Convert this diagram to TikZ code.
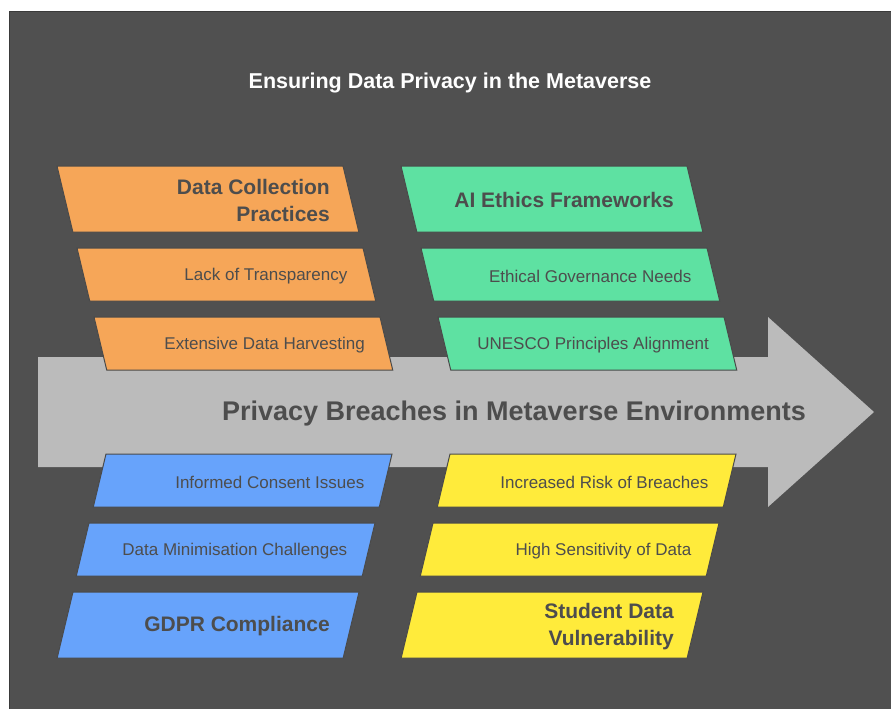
\documentclass[tikz,border=0pt]{standalone}
\usepackage{fontspec}
\setmainfont{Liberation Sans}
\usetikzlibrary{calc}

\definecolor{bgdark}{HTML}{505050}
\definecolor{bgedge}{HTML}{3A3A3A}
\definecolor{arrowgray}{HTML}{BBBBBB}
\definecolor{txtgray}{HTML}{4D4D4D}
\definecolor{stripline}{HTML}{4A4A4A}
\definecolor{collorange}{HTML}{F6A658}
\definecolor{ethicsgreen}{HTML}{5EE1A2}
\definecolor{gdprblue}{HTML}{67A3FB}
\definecolor{studyellow}{HTML}{FFEB3B}

% slanted strip: fill, top-left x, top y, height, lean (+1 right, -1 left)
\newcommand{\pgramstrip}[5]{%
  \filldraw[fill=#1, draw=stripline, line width=1pt] (#2,#3) -- ++(286,0) -- ++(#5*0.24*#4,#4) -- ++(-286,0) -- cycle;}

\begin{document}
\begin{tikzpicture}[x=1pt, y=-1pt,
    head/.style={font=\bfseries\fontsize{21}{27}\selectfont, text=txtgray, align=right, inner sep=0pt, anchor=east},
    item/.style={font=\fontsize{17}{20}\selectfont, text=txtgray, inner sep=0pt, anchor=east}]
        \fill[white] (0,0) rectangle (891,709);
        \useasboundingbox (0,0) rectangle (891,709);
        \filldraw[fill=bgdark, draw=bgedge, line width=1pt] (9,12) rectangle (892,710);
        \node[font=\bfseries\fontsize{21.5}{25}\selectfont, text=white] (title) at (450,83) {Ensuring Data Privacy in the Metaverse};

        % main arrow
        \fill[arrowgray] (38,357) -- (768,357) -- (768,317) -- (874,412) -- (768,507) -- (768,467) -- (38,467) -- cycle;
        \node[font=\bfseries\fontsize{27}{32}\selectfont, text=txtgray] (breaches) at (514,414) {Privacy Breaches in Metaverse Environments};

        % upper strips
        \pgramstrip{collorange}{57}{166}{66}{1}
        \pgramstrip{collorange}{77}{248}{53}{1}
        \pgramstrip{collorange}{94}{317}{53}{1}
        \pgramstrip{ethicsgreen}{401}{166}{66}{1}
        \pgramstrip{ethicsgreen}{421}{248}{53}{1}
        \pgramstrip{ethicsgreen}{438}{317}{53}{1}
        \node[head] (collect) at (330,200) {Data Collection\\Practices};
        \node[item] (transp) at (347.5,276) {Lack of Transparency};
        \node[item] (harvest) at (365,345) {Extensive Data Harvesting};
        \node[head] (ethics) at (674,200) {AI Ethics Frameworks};
        \node[item] (govern) at (691.5,276) {Ethical Governance Needs};
        \node[item] (unesco) at (709,345) {UNESCO Principles Alignment};

        % lower strips
        \pgramstrip{gdprblue}{106}{454}{53}{-1}
        \pgramstrip{gdprblue}{89}{523}{53}{-1}
        \pgramstrip{gdprblue}{73}{592}{66}{-1}
        \pgramstrip{studyellow}{450}{454}{53}{-1}
        \pgramstrip{studyellow}{433}{523}{53}{-1}
        \pgramstrip{studyellow}{417}{592}{66}{-1}
        \node[item] (consent) at (364.5,482) {Informed Consent Issues};
        \node[item] (minim) at (347.5,551) {Data Minimisation Challenges};
        \node[head] (gdpr) at (330,626.5) {GDPR Compliance};
        \node[item] (risk) at (708.5,482) {Increased Risk of Breaches};
        \node[item] (sensit) at (691.5,551) {High Sensitivity of Data};
        \node[head] (student) at (674,626.5) {Student Data\\Vulnerability};
    \end{tikzpicture}
\end{document}
